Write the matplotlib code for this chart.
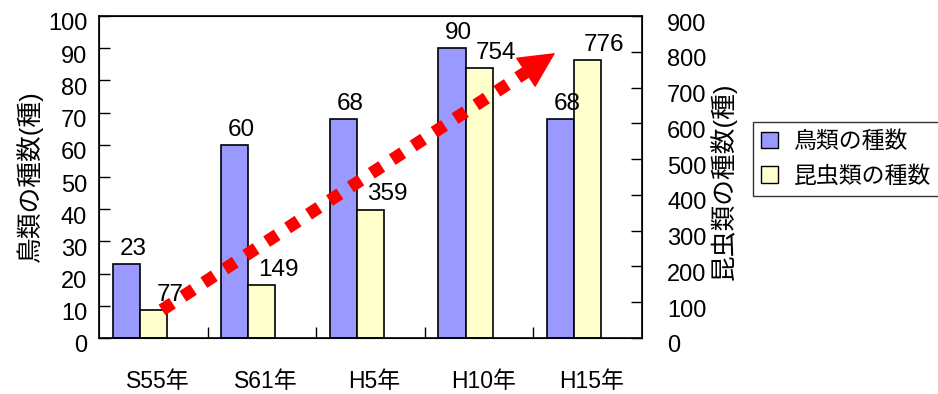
import matplotlib
matplotlib.use("Agg")
import matplotlib.pyplot as plt
from matplotlib.transforms import ScaledTranslation

plt.rcParams['font.family'] = ['Liberation Sans', 'Noto Sans CJK JP', 'DejaVu Sans']

years = ["S55年", "S61年", "H5年", "H10年", "H15年"]
birds = [23, 60, 68, 90, 68]
insects = [77, 149, 359, 754, 776]

blue = "#9999FF"
yellow = "#FFFFCC"

fig = plt.figure(figsize=(9.38, 3.94), dpi=100)
ax = fig.add_axes([99 / 938, 56 / 394, 543 / 938, 322 / 394])
ax2 = ax.twinx()

x = list(range(len(years)))
w = 0.25
ax.bar([i - w for i in x], birds, width=w, color=blue, edgecolor="black", linewidth=1.2)
ax2.bar(x, insects, width=w, color=yellow, edgecolor="black", linewidth=1.2)

ax.set_xlim(-0.5, len(years) - 0.5)
ax.set_ylim(0, 100)
ax2.set_ylim(0, 900)
ax.set_yticks(range(0, 101, 10))
ax2.set_yticks(range(0, 901, 100))

ax.set_xticks(x)
ax.set_xticklabels(years, fontsize=16.5)
ax.set_xticks([i + 0.5 for i in x[:-1]], minor=True)
ax.tick_params(axis="x", which="major", length=0, pad=23)
ax.tick_params(axis="x", which="minor", direction="in", length=8, width=1)
ax.tick_params(axis="y", direction="in", length=8, width=1, labelsize=17, pad=8.5)
ax2.tick_params(axis="y", direction="in", length=8, width=1, labelsize=17, pad=18)
for spine in ax2.spines.values():
    spine.set_linewidth(1.2)

# tick labels sit a bit off the ticks in the original
for lab in ax.get_yticklabels() + ax2.get_yticklabels():
    lab.set_transform(lab.get_transform() + ScaledTranslation(0, -6 / 100, fig.dpi_scale_trans))
for lab in ax.get_xticklabels():
    lab.set_transform(lab.get_transform() + ScaledTranslation(4 / 100, 0, fig.dpi_scale_trans))

# value labels (on ax2 so they stay above the yellow bars)
for i, v in enumerate(birds):
    ax2.annotate(str(v), xy=(i - w, v), xycoords=ax.transData, xytext=(5, 3),
                 textcoords="offset points", ha="center", va="bottom", fontsize=17.5)
for i, v in enumerate(insects):
    ax2.annotate(str(v), xy=(i, v), xytext=(12, 3),
                 textcoords="offset points", ha="center", va="bottom", fontsize=17.5)

# red dotted trend arrow
ax2.plot([0.116, 0.786], [0.087, 0.825], transform=ax2.transAxes, color="red",
         linewidth=9, linestyle=(0, (1, 1)), solid_capstyle="butt", zorder=5)
ax2.annotate("", xy=(0.840, 0.885), xycoords="axes fraction",
             xytext=(0.776, 0.814), textcoords="axes fraction",
             arrowprops=dict(arrowstyle="-|>,head_length=2.4,head_width=1.2",
                             color="red", lw=1, shrinkA=0, shrinkB=0), zorder=6)

fig.text(29 / 938, 1 - 176 / 394, "鳥類の種数(種)", rotation=90, ha="center", va="center", fontsize=18.5)
fig.text(723 / 938, 1 - 181 / 394, "昆虫類の種数(種)", rotation=90, ha="center", va="center", fontsize=18.5)

handles = [plt.Rectangle((0, 0), 1, 1, facecolor=blue, edgecolor="black"),
           plt.Rectangle((0, 0), 1, 1, facecolor=yellow, edgecolor="black")]
leg = fig.legend(handles, ["鳥類の種数", "昆虫類の種数"], loc="upper left",
                 bbox_to_anchor=(753 / 938, 1 - 122 / 394), fontsize=16.5,
                 frameon=True, fancybox=False, handlelength=0.75, handleheight=0.75,
                 handletextpad=0.7, borderpad=0.35, labelspacing=0.5, borderaxespad=0)
leg.get_frame().set_edgecolor("black")
leg.get_frame().set_linewidth(1)

fig.savefig("out.png", dpi=100)
